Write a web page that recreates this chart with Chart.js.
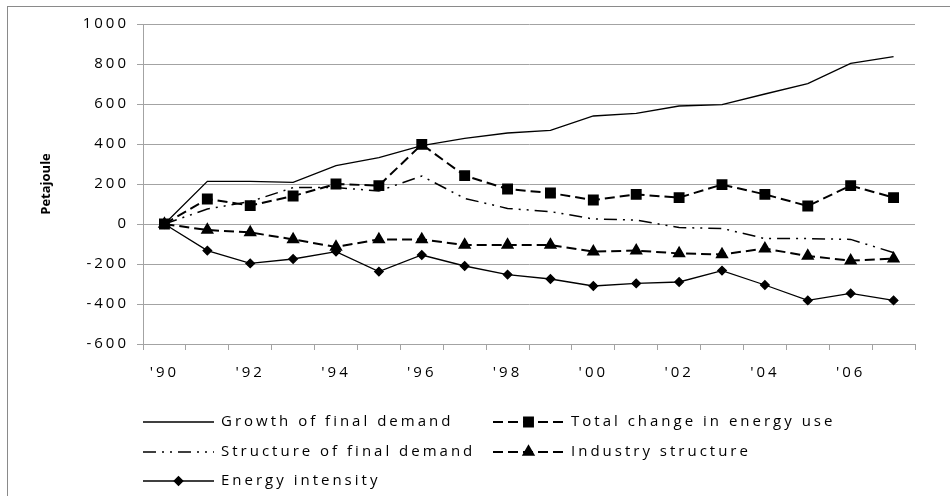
<!DOCTYPE html>
<html>
<head>
<meta charset="utf-8">
<script src="https://cdn.jsdelivr.net/npm/chart.js@4.4.1/dist/chart.umd.min.js"></script>
<style>
  html, body { margin: 0; padding: 0; background: #fff; }
</style>
</head>
<body>
<canvas id="myLineChart" width="950" height="496"></canvas>
<script>
// Tahun (label kategori)
const years = ["'90", "'91", "'92", "'93", "'94", "'95", "'96", "'97", "'98",
               "'99", "'00", "'01", "'02", "'03", "'04", "'05", "'06", "'07"];

// Nilai tiap seri (Petajoule)
const growthFinalDemand = [0, 213, 213, 208, 292, 332, 392, 428, 455, 468, 540, 553, 590, 597, 650, 702, 803, 837];
const totalChange = [0, 125, 92, 140, 200, 192, 398, 242, 175, 155, 120, 148, 132, 197, 148, 90, 192, 132];
const structureFinalDemand = [0, 75, 112, 182, 182, 165, 240, 128, 78, 62, 25, 20, -18, -22, -73, -73, -77, -143];
const industryStructure = [0, -30, -42, -77, -115, -77, -77, -105, -105, -105, -138, -133, -147, -152, -123, -160, -183, -173];
const energyIntensity = [0, -133, -197, -175, -138, -238, -155, -210, -253, -275, -310, -297, -290, -233, -305, -382, -347, -382];

const seriesLabels = [
    "Growth of final demand",
    "Total change in energy use",
    "Structure of final demand",
    "Industry structure",
    "Energy intensity"
];

const yTicks = [-600, -400, -200, 0, 200, 400, 600, 800, 1000];
const yTitle = "Petajoule";

const FONT = "'Open Sans', 'DejaVu Sans', sans-serif";
const GRID = "#a3a3a3";

// Spasi huruf seperti di gambar asli + bingkai luar
const spacingPlugin = {
    id: "spacing",
    beforeLayout(chart) { chart.ctx.letterSpacing = "3px"; },
    beforeDraw(chart) {
        chart.ctx.letterSpacing = "3px";
        const ctx = chart.ctx;
        ctx.save();
        ctx.strokeStyle = "#8a8a8a";
        ctx.lineWidth = 1;
        ctx.strokeRect(7.5, 6.5, 980, 540);
        ctx.restore();
    }
};

// Judul sumbu Y (tanpa spasi huruf) dan legenda dua kolom
const legendPlugin = {
    id: "twoColLegend",
    afterDraw(chart) {
        const { ctx, chartArea } = chart;

        ctx.save();
        ctx.letterSpacing = "0px";
        ctx.translate(46, (chartArea.top + chartArea.bottom) / 2);
        ctx.rotate(-Math.PI / 2);
        ctx.fillStyle = "#000";
        ctx.font = "bold 13px " + FONT;
        ctx.textAlign = "center";
        ctx.textBaseline = "middle";
        ctx.fillText(yTitle, 0, 0);
        ctx.restore();

        const cols = [chartArea.left, chartArea.left + 350];
        const rows = [chartArea.bottom + 78, chartArea.bottom + 108, chartArea.bottom + 137];
        ctx.save();
        ctx.letterSpacing = "3px";
        chart.data.datasets.forEach((ds, i) => {
            const x = cols[i % 2];
            const y = rows[Math.floor(i / 2)];
            ctx.save();
            ctx.strokeStyle = "#000";
            ctx.lineWidth = ds.borderWidth;
            ctx.setLineDash(ds.borderDash || []);
            ctx.beginPath();
            ctx.moveTo(x, y);
            ctx.lineTo(x + 71, y);
            ctx.stroke();
            ctx.setLineDash([]);
            if (ds.pointRadius > 0) {
                ctx.fillStyle = "#000";
                Chart.helpers.drawPoint(ctx, {
                    pointStyle: ds.pointStyle,
                    radius: ds.pointRadius,
                    borderWidth: 1,
                    rotation: 0
                }, x + 35.5, y);
            }
            ctx.restore();
            ctx.fillStyle = "#000";
            ctx.font = "15px " + FONT;
            ctx.textBaseline = "middle";
            ctx.textAlign = "left";
            ctx.fillText(ds.label, x + 78, y);
        });
        ctx.restore();
    }
};

function initLineChart() {
    const data = {
        labels: years,
        datasets: [
            {
                label: seriesLabels[0],
                data: growthFinalDemand,
                borderColor: "#000",
                backgroundColor: "#000",
                borderWidth: 1.3,
                pointRadius: 0
            },
            {
                label: seriesLabels[1],
                data: totalChange,
                borderColor: "#000",
                backgroundColor: "#000",
                borderWidth: 2,
                borderDash: [10, 5],
                pointStyle: "rect",
                pointRadius: 6.3
            },
            {
                label: seriesLabels[2],
                data: structureFinalDemand,
                borderColor: "#000",
                backgroundColor: "#000",
                borderWidth: 1.5,
                borderDash: [13, 6, 2, 6, 2, 6],
                pointRadius: 0
            },
            {
                label: seriesLabels[3],
                data: industryStructure,
                borderColor: "#000",
                backgroundColor: "#000",
                borderWidth: 2,
                borderDash: [10, 5],
                pointStyle: "triangle",
                pointRadius: 5.7
            },
            {
                label: seriesLabels[4],
                data: energyIntensity,
                borderColor: "#000",
                backgroundColor: "#000",
                borderWidth: 1.3,
                pointStyle: "rectRot",
                pointRadius: 4.3
            }
        ]
    };

    const ctx = document.getElementById("myLineChart").getContext("2d");
    new Chart(ctx, {
        type: "line",
        data: data,
        plugins: [spacingPlugin, legendPlugin],
        options: {
            responsive: false,
            animation: false,
            devicePixelRatio: 1,
            layout: { padding: { left: 0, top: 24, right: 35, bottom: 0 } },
            plugins: {
                legend: { display: false },
                tooltip: { enabled: false }
            },
            elements: {
                line: { tension: 0, fill: false },
                point: { borderWidth: 1, hoverRadius: 0 }
            },
            scales: {
                x: {
                    offset: true,
                    afterFit: s => { s.height = 152; },
                    grid: {
                        offset: true,
                        drawOnChartArea: false,
                        drawTicks: true,
                        tickLength: 6,
                        color: GRID
                    },
                    border: { color: GRID },
                    ticks: {
                        autoSkip: false,
                        maxRotation: 0,
                        padding: 14,
                        color: "#000",
                        font: { family: FONT, size: 15 },
                        callback: (v, i) => (i % 2 === 0 ? years[i] : "")
                    }
                },
                y: {
                    min: -600,
                    max: 1000,
                    afterFit: s => { s.width = 143; },
                    afterBuildTicks: s => { s.ticks = yTicks.map(v => ({ value: v })); },
                    grid: { color: GRID, tickLength: 6 },
                    border: { color: GRID },
                    ticks: {
                        padding: 8,
                        color: "#000",
                        font: { family: FONT, size: 15 },
                        callback: v => String(v)
                    }
                }
            }
        }
    });
}

document.addEventListener("DOMContentLoaded", function () {
    initLineChart();
});
</script>
</body>
</html>
